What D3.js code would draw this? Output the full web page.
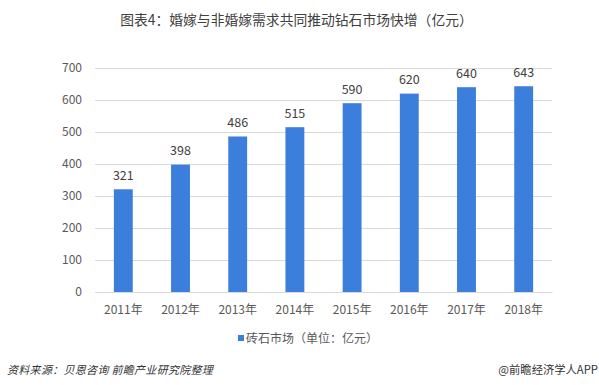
<!DOCTYPE html>
<html><head><meta charset="utf-8">
<script src="https://cdn.jsdelivr.net/npm/d3@7"></script>
<style>body{margin:0;background:#fff;}svg{display:block;}</style>
</head><body>
<svg id="c" width="599" height="385"></svg>
<script>
const categories = ["2011年","2012年","2013年","2014年","2015年","2016年","2017年","2018年"];
const values = [321, 398, 486, 515, 590, 620, 640, 643];
const yTicks = [0,100,200,300,400,500,600,700];
const title = "图表4：婚嫁与非婚嫁需求共同推动钻石市场快增（亿元）";
const seriesName = "砖石市场（单位：亿元）";
const source = "资料来源：贝恩咨询 前瞻产业研究院整理";
const credit = "@前瞻经济学人APP";

const svg = d3.select("#c");
const font = "'Noto Sans CJK SC','Microsoft YaHei',sans-serif";
const m = {left:95, right:552, top:68, bottom:292};
const x = d3.scaleBand().domain(categories).range([m.left, m.right]).paddingInner(0.67).paddingOuter(0.33);
const y = d3.scaleLinear().domain([0,700]).range([m.bottom, m.top]);

svg.append("text").attr("x",296.5).attr("y",25).attr("text-anchor","middle")
  .attr("font-family",font).attr("font-size",13.8).attr("fill","#404040").text(title);

const gy = svg.append("g").attr("transform",`translate(${m.left},0)`)
  .call(d3.axisLeft(y).tickValues(yTicks).tickSize(-(m.right-m.left)).tickPadding(13));
gy.select(".domain").remove();
gy.selectAll(".tick line").attr("stroke","#d9d9d9");
gy.selectAll(".tick text").attr("font-family",font).attr("font-size",12).attr("fill","#595959");

svg.selectAll("rect.bar").data(values).enter().append("rect").attr("class","bar")
  .attr("x",(d,i)=>x(categories[i])).attr("width",x.bandwidth())
  .attr("y",d=>y(d)).attr("height",d=>y(0)-y(d)).attr("fill","#3C7EDC");

svg.selectAll("text.val").data(values).enter().append("text").attr("class","val")
  .attr("x",(d,i)=>x(categories[i])+x.bandwidth()/2).attr("y",d=>y(d)-9.5)
  .attr("text-anchor","middle").attr("font-family",font).attr("font-size",12.5).attr("fill","#404040").text(d=>d);

const gx = svg.append("g").attr("transform",`translate(0,${m.bottom})`)
  .call(d3.axisBottom(x).tickSize(0).tickPadding(13));
gx.select(".domain").attr("stroke","#d9d9d9");
gx.selectAll(".tick text").attr("font-family",font).attr("font-size",12).attr("fill","#595959");

svg.append("rect").attr("x",238).attr("y",335).attr("width",6).attr("height",6).attr("fill","#3C7EDC");
svg.append("text").attr("x",246).attr("y",343).attr("font-family",font).attr("font-size",12).attr("fill","#595959").text(seriesName);

svg.append("text").attr("x",7).attr("y",374).attr("font-family",font).attr("font-size",11).attr("letter-spacing",0.3).attr("font-style","italic").attr("fill","#333").text(source);
svg.append("text").attr("x",598).attr("y",374).attr("text-anchor","end").attr("font-family",font).attr("font-size",11.3).attr("fill","#333").text(credit);
</script>
</body></html>
